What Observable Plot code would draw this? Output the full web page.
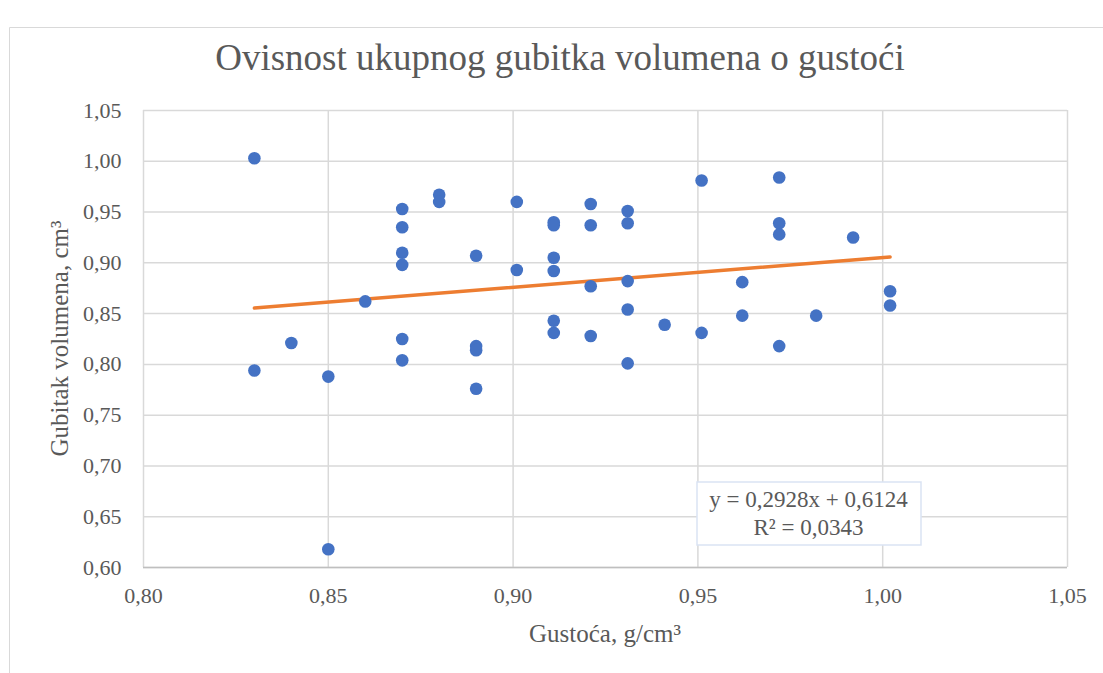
<!DOCTYPE html>
<html><head><meta charset="utf-8">
<script src="https://cdn.jsdelivr.net/npm/d3@7"></script>
<script src="https://cdn.jsdelivr.net/npm/@observablehq/plot@0.6"></script>
<style>
body{margin:0;background:#fff;}
#wrap{position:relative;width:1103px;height:673px;overflow:hidden;}
</style></head><body><div id="wrap"></div>
<script>
// Data
const density = [0.830,0.830,0.840,0.850,0.850,0.860,0.870,0.870,0.870,0.870,0.870,0.870,
  0.880,0.880,0.890,0.890,0.890,0.890,0.901,0.901,0.911,0.911,0.911,0.911,0.911,0.911,
  0.921,0.921,0.921,0.921,0.931,0.931,0.931,0.931,0.931,0.941,0.951,0.951,0.962,0.962,
  0.972,0.972,0.972,0.972,0.982,0.992,1.002,1.002];
const loss = [1.003,0.794,0.821,0.788,0.618,0.862,0.953,0.935,0.910,0.898,0.825,0.804,
  0.967,0.960,0.907,0.818,0.814,0.776,0.960,0.893,0.940,0.937,0.905,0.892,0.843,0.831,
  0.958,0.937,0.877,0.828,0.951,0.939,0.882,0.854,0.801,0.839,0.981,0.831,0.881,0.848,
  0.984,0.939,0.928,0.818,0.848,0.925,0.872,0.858];
const slope = 0.2928, intercept = 0.6124, r2 = 0.0343;
const xTicks = [0.80,0.85,0.90,0.95,1.00,1.05];
const yTicks = [0.60,0.65,0.70,0.75,0.80,0.85,0.90,0.95,1.00,1.05];
const titleText = "Ovisnost ukupnog gubitka volumena o gustoći";
const xLabel = "Gustoća, g/cm³";
const yLabel = "Gubitak volumena, cm³";

const fmt = d => d.toFixed(2).replace(".", ",");
const fmt4 = d => d.toFixed(4).replace(".", ",");
const data = density.map((x, i) => ({x, y: loss[i]}));
const trend = [d3.min(density), d3.max(density)].map(x => ({x, y: slope * x + intercept}));

const FONT = "Liberation Serif, Times New Roman, serif";
const chart = Plot.plot({
  width: 1103, height: 673,
  marginLeft: 143, marginRight: 36, marginTop: 110, marginBottom: 106,
  style: {fontFamily: FONT, background: "transparent", overflow: "visible"},
  x: {domain: [0.8, 1.05], ticks: xTicks, tickFormat: fmt, label: null},
  y: {domain: [0.6, 1.05], ticks: yTicks, tickFormat: fmt, label: null},
  marks: [
    Plot.gridX(xTicks, {stroke: "#d9d9d9", strokeOpacity: 1, strokeWidth: 1.5}),
    Plot.gridY(yTicks, {stroke: "#d9d9d9", strokeOpacity: 1, strokeWidth: 1.5}),
    Plot.ruleY([0.6], {stroke: "#bfbfbf", strokeWidth: 1.5}),
    Plot.axisX(xTicks, {tickSize: 0, tickPadding: 20, fontSize: 22, color: "#595959", label: null, tickFormat: fmt}),
    Plot.axisY(yTicks, {tickSize: 0, tickPadding: 22, fontSize: 22, color: "#595959", label: null, tickFormat: fmt}),
    Plot.line(trend, {x: "x", y: "y", stroke: "#ED7D31", strokeWidth: 3.5}),
    Plot.dot(data, {x: "x", y: "y", r: 6.3, fill: "#4472C4", stroke: "none"})
  ]
});
document.getElementById("wrap").appendChild(chart);

const svg = d3.select(chart);
// outer chart frame
svg.insert("path", ":first-child").attr("d", "M9.5,673V27.5H1103").attr("fill", "none").attr("stroke", "#d9d9d9").attr("stroke-width", 1);
const txt = (x, y, s, size, anchor) => svg.append("text").attr("x", x).attr("y", y)
  .attr("text-anchor", anchor || "middle").attr("fill", "#595959")
  .style("font-family", FONT).style("font-size", size + "px").text(s);
txt(560, 70, titleText, 37);
txt(605, 642, xLabel, 25);
txt(0, 0, yLabel, 25).attr("transform", "translate(68,338.5) rotate(-90)");
// equation label box
svg.append("rect").attr("x", 697).attr("y", 482).attr("width", 224).attr("height", 63)
  .attr("fill", "#fff").attr("stroke", "#dae3f3").attr("stroke-width", 1.5);
txt(808.5, 507, `y = ${fmt4(slope)}x + ${fmt4(intercept)}`, 23);
txt(808.5, 535, `R² = ${fmt4(r2)}`, 23);
</script></body></html>
